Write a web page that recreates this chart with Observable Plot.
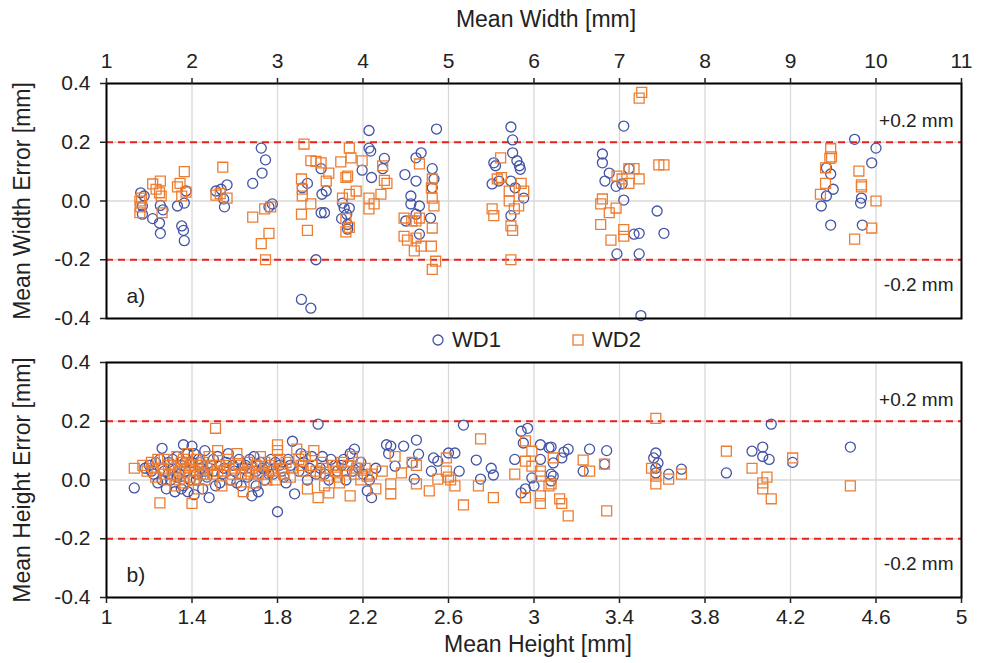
<!DOCTYPE html>
<html>
<head>
<meta charset="utf-8">
<script src="https://cdn.jsdelivr.net/npm/d3@7"></script>
<script src="https://cdn.jsdelivr.net/npm/@observablehq/plot@0.6"></script>
<style>
  html, body { margin: 0; padding: 0; background: #fff; }
  body { width: 986px; height: 663px; overflow: hidden; font-family: "Liberation Sans", Arial, sans-serif; }
  #legend { position: relative; height: 20px; font-size: 22px; color: #222; }
  #legend .item { position: absolute; top: 0; height: 20px; display: flex; align-items: center; }
  #legend svg { margin-right: 7px; }
</style>
</head>
<body>
<div id="top"></div>
<div id="legend"></div>
<div id="bottom"></div>
<script>
// ---------- data ----------
const seriesNames = ["WD1", "WD2"];
const thresholds = [0.2, -0.2];
const thresholdLabels = ["+0.2 mm", "-0.2 mm"];
const panelLabels = ["a)", "b)"];
const errorTicks = [-0.4, -0.2, 0, 0.2, 0.4];
const widthTicks = [1, 2, 3, 4, 5, 6, 7, 8, 9, 10, 11];
const heightTicks = [1, 1.4, 1.8, 2.2, 2.6, 3, 3.4, 3.8, 4.2, 4.6, 5];

// [mean width, mean width error]
const widthWD1 = [
  [1.40,0.028],[1.44,0.017],[1.42,-0.017],[1.42,-0.045],[1.54,-0.06],[1.62,-0.075],[1.63,-0.11],[1.63,-0.015],[1.66,-0.03],
  [1.83,-0.017],[1.91,-0.007],[1.93,0.034],[1.88,-0.085],[1.90,-0.10],[1.91,-0.135],
  [2.28,0.034],[2.34,0.04],[2.41,0.055],[2.37,0.007],[2.38,-0.02],
  [2.71,0.06],[2.82,0.095],[2.86,0.14],[2.81,0.18],[2.94,-0.01],[2.90,-0.02],
  [3.45,-0.2],[3.28,-0.335],[3.39,-0.365],
  [3.29,0.045],[3.35,0.06],[3.51,0.11],[3.52,0.023],[3.57,0.034],[3.51,-0.04],[3.55,-0.04],
  [3.76,-0.007],[3.78,-0.024],[3.84,-0.024],[3.75,-0.06],[3.82,-0.08],[3.82,-0.096],[3.81,-0.045],
  [4.07,0.24],[4.07,0.18],[4.09,0.17],[4.25,0.145],[4.23,0.11],[3.99,0.105],[4.10,0.08],
  [4.86,0.245],[4.62,0.147],[4.68,0.164],[4.49,0.09],[4.62,0.068],[4.81,0.11],[4.83,0.075],[4.81,0.045],
  [4.56,0.017],[4.56,-0.01],[4.66,-0.017],[4.62,-0.045],[4.50,-0.068],[4.79,-0.058],[4.66,-0.113],
  [5.73,0.252],[5.75,0.208],[5.75,0.164],[5.53,0.13],[5.55,0.12],[5.80,0.137],[5.83,0.12],[5.84,0.108],
  [5.51,0.058],[5.59,0.068],[5.73,0.068],[5.78,0.045],[5.88,0.01],[5.73,-0.05],
  [6.80,0.16],[6.80,0.13],[6.88,0.095],[6.83,0.068],[6.96,0.05],[7.03,0.058],[7.11,0.11],[7.05,0.255],[7.05,0.003],
  [7.44,-0.034],[7.17,-0.113],[7.23,-0.11],[7.52,-0.11],[6.97,-0.18],[7.23,-0.18],[7.25,-0.39],
  [9.75,0.21],[10.0,0.18],[9.95,0.13],[9.42,0.113],[9.47,0.092],[9.50,0.04],[9.42,0.017],[9.36,-0.017],
  [9.47,-0.082],[9.83,0.01],[9.82,-0.007],[9.84,-0.082]
];
const widthWD2 = [
  [1.39,0.0],[1.40,-0.02],[1.39,-0.04],[1.41,0.01],[1.54,0.058],[1.63,0.068],[1.62,0.028],[1.64,0.017],[1.65,-0.04],[1.58,0.04],
  [1.83,0.048],[1.86,0.06],[1.91,0.10],[1.93,0.03],[1.88,0.017],
  [2.28,0.02],[2.36,0.115],[2.41,0.01],[2.33,0.025],
  [2.71,-0.055],[2.85,-0.027],[2.81,-0.145],[2.86,-0.2],[2.90,-0.11],[2.92,-0.02],
  [3.31,0.194],[3.39,0.137],[3.45,0.135],[3.51,0.13],[3.60,0.095],[3.57,0.068],[3.28,0.075],[3.29,0.04],[3.29,0.017],
  [3.39,-0.01],[3.28,-0.045],[3.35,-0.10],
  [3.74,0.133],[3.86,0.147],[3.84,0.18],[3.80,0.08],[3.82,0.085],[3.92,0.034],[3.84,0.023],[3.76,0.01],[3.80,-0.06],[3.80,-0.105],[3.84,-0.09],
  [3.99,0.137],[4.07,0.01],[4.07,-0.027],[4.13,-0.01],[4.21,0.023],[4.28,0.06],[4.25,0.07],[4.23,0.12],
  [4.66,0.126],[4.81,0.075],[4.80,0.045],[4.81,0.01],[4.83,-0.017],[4.48,-0.058],[4.57,-0.068],[4.62,-0.068],[4.66,-0.058],
  [4.81,-0.092],[4.48,-0.12],[4.52,-0.133],[4.62,-0.126],[4.68,-0.154],[4.60,-0.17],[4.80,-0.154],[4.85,-0.205],[4.81,-0.233],
  [5.61,0.147],[5.57,0.075],[5.71,0.034],[5.88,0.034],[5.82,-0.017],[5.77,-0.027],[5.51,-0.027],[5.53,-0.05],
  [5.73,-0.085],[5.75,-0.10],[5.73,-0.2],[5.71,0.0],[5.62,0.08],[5.85,0.06],
  [7.23,0.35],[7.26,0.37],[7.46,0.123],[7.52,0.123],[7.17,0.11],[7.11,0.11],[6.97,0.085],[7.03,0.075],[7.11,0.06],[7.23,0.075],
  [6.80,0.007],[6.78,-0.01],[6.96,-0.024],[6.88,-0.04],[6.78,-0.08],[6.90,-0.133],[7.05,-0.097],[7.05,-0.12],
  [9.47,0.178],[9.48,0.15],[9.46,0.145],[9.41,0.113],[9.41,0.06],[9.35,0.023],[9.80,0.102],[9.83,0.055],[9.83,0.048],
  [10.0,0.0],[9.95,-0.092],[9.75,-0.13]
];

// [mean height, mean height error]
const heightWD1 = [
  [1.13,-0.027],[1.18,0.04],[1.20,0.05],[1.22,0.02],[1.24,-0.01],[1.25,0.07],[1.26,0.108],[1.27,0.03],[1.28,-0.03],[1.29,0.06],
  [1.30,0.0],[1.31,0.04],[1.32,-0.04],[1.33,0.08],[1.34,0.02],[1.35,0.05],[1.36,0.12],[1.36,-0.02],[1.37,0.03],[1.38,0.09],
  [1.39,0.0],[1.40,0.115],[1.40,0.06],[1.41,-0.05],[1.42,0.02],[1.43,0.07],[1.44,0.04],[1.45,-0.03],[1.46,0.10],[1.47,0.01],
  [1.48,-0.06],[1.49,0.05],[1.50,0.03],[1.52,0.08],[1.53,-0.01],[1.55,0.04],[1.56,0.06],[1.58,0.0],[1.60,0.03],[1.62,0.07],
  [1.63,-0.02],[1.65,0.05],[1.66,0.01],[1.68,-0.054],[1.69,0.08],[1.70,0.03],[1.71,-0.04],[1.72,0.06],[1.74,0.0],[1.75,0.04],
  [1.77,0.07],[1.78,0.02],[1.80,-0.108],[1.81,0.05],[1.83,0.01],[1.85,0.07],[1.87,0.132],[1.88,-0.047],[1.90,0.03],[1.92,0.06],
  [1.94,0.0],[1.96,0.08],[1.99,0.19],[2.00,0.04],[2.02,0.02],[2.05,0.07],[2.08,0.03],[2.10,0.05],[2.12,0.0],[2.14,0.09],
  [2.16,0.105],[2.18,0.04],[2.20,0.02],[2.22,-0.037],[2.24,-0.06],[2.26,0.04],[2.31,0.12],[2.32,0.09],
  [1.21,0.03],[1.23,0.06],[1.26,0.0],[1.29,0.02],[1.31,0.07],[1.33,0.01],[1.35,-0.03],[1.37,0.06],[1.38,-0.04],[1.41,0.09],
  [1.42,0.0],[1.44,0.06],[1.46,0.03],[1.50,0.07],[1.51,-0.02],[1.54,0.02],[1.57,0.09],[1.59,0.05],[1.61,-0.01],[1.64,0.04],
  [1.67,0.07],[1.70,-0.02],[1.73,0.04],[1.76,0.02],[1.79,0.06],[1.82,0.03],[1.84,-0.01],[1.86,0.05],[1.91,0.09],[1.95,0.04],
  [1.98,0.02],[2.01,0.08],[2.04,0.0],[2.07,0.05],[2.11,0.07],[2.15,0.03],[2.19,0.06],[2.23,0.0],
  [2.33,0.115],[2.35,0.047],[2.39,0.115],[2.43,0.058],[2.44,0.003],[2.45,0.136],[2.46,0.088],[2.52,0.03],[2.53,0.075],[2.55,0.064],
  [2.60,0.092],[2.63,0.092],[2.65,0.03],[2.67,0.187],[2.73,0.068],[2.80,0.04],[2.81,0.017],[2.75,0.003],[2.91,0.07],[2.94,0.166],
  [2.97,0.176],[2.95,0.126],[3.03,0.12],[3.07,0.11],[2.94,-0.044],[2.96,-0.03],[3.00,-0.02],[2.99,0.007],[3.03,0.07],[3.08,0.02],
  [3.08,0.112],[3.16,0.105],[3.14,0.095],[3.26,0.105],[3.34,0.10],[3.09,0.058],[3.13,0.075],[3.23,0.03],[3.33,0.054],[3.09,0.013],[3.08,-0.003],
  [3.57,0.092],[3.56,0.075],[3.58,0.058],[3.57,0.04],[3.57,0.024],[3.63,0.02],[3.69,0.037],
  [4.11,0.19],[4.48,0.112],[3.90,0.024],[4.02,0.098],[4.07,0.112],[4.07,0.08],[4.10,0.07],[4.21,0.06]
];
const heightWD2 = [
  [1.13,0.04],[1.17,0.05],[1.19,0.03],[1.21,0.06],[1.23,0.01],[1.25,-0.078],[1.26,0.04],[1.27,0.07],[1.28,0.0],[1.30,0.05],
  [1.31,0.02],[1.32,-0.02],[1.33,0.08],[1.34,0.03],[1.35,0.06],[1.36,-0.01],[1.37,0.04],[1.38,0.09],[1.39,0.01],[1.40,-0.08],
  [1.40,0.05],[1.41,0.03],[1.42,0.07],[1.43,-0.03],[1.44,0.02],[1.45,0.06],[1.46,0.0],[1.47,0.04],[1.48,0.08],[1.50,0.02],
  [1.51,0.176],[1.52,0.10],[1.53,0.05],[1.54,-0.02],[1.55,0.03],[1.57,0.07],[1.58,0.0],[1.60,0.04],[1.61,0.09],[1.63,0.02],
  [1.64,-0.04],[1.66,0.06],[1.67,0.03],[1.69,-0.01],[1.70,0.05],[1.72,0.08],[1.73,0.02],[1.75,0.0],[1.76,0.05],[1.78,0.03],
  [1.80,0.12],[1.80,0.10],[1.82,0.04],[1.84,0.06],[1.86,0.01],[1.89,0.105],[1.90,0.07],[1.92,0.03],[1.94,-0.03],[1.96,0.05],
  [1.97,0.10],[1.99,-0.06],[2.00,0.02],[2.02,-0.02],[2.04,-0.044],[2.06,0.05],[2.08,0.01],[2.10,0.06],[2.12,0.03],[2.14,-0.054],
  [2.15,0.08],[2.17,0.04],[2.19,0.0],[2.22,0.013],[2.26,-0.03],[2.29,0.03],
  [1.22,0.04],[1.24,0.07],[1.27,0.02],[1.29,0.05],[1.32,0.04],[1.34,0.0],[1.36,0.07],[1.39,0.05],[1.41,0.0],[1.43,0.05],
  [1.45,0.02],[1.49,0.05],[1.52,0.03],[1.56,0.05],[1.59,0.02],[1.62,0.05],[1.65,0.02],[1.68,0.04],[1.71,0.02],[1.74,0.06],
  [1.77,0.04],[1.79,0.0],[1.81,0.07],[1.83,0.02],[1.87,0.04],[1.91,0.05],[1.93,0.08],[1.98,0.03],[2.01,0.06],[2.03,0.04],
  [2.07,0.03],[2.09,-0.01],[2.13,0.05],[2.16,0.02],[2.18,0.06],[2.21,0.04],[2.24,0.02],
  [2.35,0.08],[2.38,0.024],[2.33,-0.013],[2.33,-0.047],[2.43,0.06],[2.45,0.05],[2.45,-0.013],[2.51,-0.037],[2.55,0.003],[2.59,0.03],
  [2.59,0.075],[2.60,0.01],[2.61,0.0],[2.63,-0.02],[2.67,-0.085],[2.74,-0.02],[2.75,0.14],[2.81,-0.06],[2.91,0.02],[2.96,0.133],
  [2.96,0.064],[2.99,0.098],[2.99,0.047],[2.96,-0.06],[3.03,0.013],[3.03,-0.08],[3.07,-0.02],
  [3.09,0.075],[3.23,0.068],[3.26,0.03],[3.33,0.054],[3.03,0.03],[3.08,-0.013],[3.03,-0.054],[3.12,-0.064],[3.13,-0.08],[3.16,-0.122],[3.34,-0.105],
  [3.57,0.21],[3.55,0.04],[3.57,0.013],[3.57,-0.013],[3.63,0.003],[3.69,0.02],
  [3.90,0.098],[4.02,0.04],[4.09,0.01],[4.07,-0.01],[4.07,-0.03],[4.11,-0.064],[4.21,0.075],[4.48,-0.02]
];

// ---------- styling ----------
const BLUE = "#4253a6";
const ORANGE = "#ed7d31";
const RED = "#e8221c";
const INK = "#222";
const FONT = "'Liberation Sans', Arial, sans-serif";
const fmtErr = d => d.toFixed(1);

function panel({xDomain, xTicks, xAnchor, xTitle, yTitle, wd1, wd2, label, height, marginTop, marginBottom, titleDx}) {
  const titleMark = xAnchor === "top"
    ? Plot.text([xTitle], {frameAnchor: "top", lineAnchor: "middle", textAnchor: "middle", dx: titleDx, dy: -64, fontSize: 23, fill: INK})
    : Plot.text([xTitle], {frameAnchor: "bottom", lineAnchor: "middle", textAnchor: "middle", dx: titleDx, dy: 47, fontSize: 23, fill: INK});
  return Plot.plot({
    width: 986,
    height,
    marginTop,
    marginBottom,
    marginLeft: 106,
    marginRight: 25,
    style: {fontFamily: FONT, fontSize: "21px", background: "white", color: INK, overflow: "visible"},
    x: {domain: xDomain},
    y: {domain: [-0.4, 0.4]},
    marks: [
      Plot.gridX(xTicks, {stroke: "#d9d9d9", strokeOpacity: 1, strokeWidth: 1.3}),
      Plot.gridY(errorTicks, {stroke: "#d9d9d9", strokeOpacity: 1, strokeWidth: 1.3}),
      Plot.ruleY(thresholds, {stroke: RED, strokeWidth: 2, strokeDasharray: "7,5"}),
      Plot.dot(wd1, {x: d => d[0], y: d => d[1], r: 5, symbol: "circle", stroke: BLUE, strokeWidth: 1.3, fill: "none"}),
      Plot.dot(wd2, {x: d => d[0], y: d => d[1], r: 5.6, symbol: "square", stroke: ORANGE, strokeWidth: 1.3, fill: "none"}),
      Plot.frame({stroke: "black", strokeWidth: 2}),
      Plot.axisX(xTicks, {anchor: xAnchor, tickSize: 6, tickPadding: xAnchor === "top" ? 10 : 6, strokeWidth: 1.5, label: null, tickFormat: d => String(d), fontSize: 21}),
      Plot.axisY(errorTicks, {anchor: "left", tickSize: 6, tickPadding: 10, strokeWidth: 1.5, label: null, tickFormat: fmtErr, fontSize: 21}),
      titleMark,
      Plot.text([yTitle], {frameAnchor: "left", textAnchor: "middle", lineAnchor: "middle", dx: -84, rotate: -90, fontSize: 23, fill: INK}),
      Plot.text([thresholdLabels[0]], {frameAnchor: "top-right", textAnchor: "end", lineAnchor: "middle", dx: -8, dy: 37, fontSize: 19, fill: INK}),
      Plot.text([thresholdLabels[1]], {frameAnchor: "bottom-right", textAnchor: "end", lineAnchor: "middle", dx: -8, dy: -34, fontSize: 19, fill: INK}),
      Plot.text([label], {frameAnchor: "bottom-left", textAnchor: "start", lineAnchor: "middle", dx: 20, dy: -22, fontSize: 21, fill: INK})
    ]
  });
}

document.getElementById("top").append(panel({
  xDomain: [1, 11], xTicks: widthTicks, xAnchor: "top", xTitle: "Mean Width [mm]",
  yTitle: "Mean Width Error [mm]", wd1: widthWD1, wd2: widthWD2, label: panelLabels[0],
  height: 330, marginTop: 83, marginBottom: 12, titleDx: 12
}));

document.getElementById("bottom").append(panel({
  xDomain: [1, 5], xTicks: heightTicks, xAnchor: "bottom", xTitle: "Mean Height [mm]",
  yTitle: "Mean Height Error [mm]", wd1: heightWD1, wd2: heightWD2, label: panelLabels[1],
  height: 313, marginTop: 12, marginBottom: 66, titleDx: 4
}));

// legend
const legend = document.getElementById("legend");
const legendItems = [
  {name: seriesNames[0], color: BLUE, shape: "circle", left: 431},
  {name: seriesNames[1], color: ORANGE, shape: "square", left: 571}
];
for (const it of legendItems) {
  const div = document.createElement("div");
  div.className = "item";
  div.style.left = it.left + "px";
  const shape = it.shape === "circle"
    ? `<circle cx="7" cy="8" r="5" fill="none" stroke="${it.color}" stroke-width="1.3"/>`
    : `<rect x="2" y="3" width="10" height="10" fill="none" stroke="${it.color}" stroke-width="1.3"/>`;
  div.innerHTML = `<svg width="14" height="16">${shape}</svg><span>${it.name}</span>`;
  legend.append(div);
}
</script>
</body>
</html>
